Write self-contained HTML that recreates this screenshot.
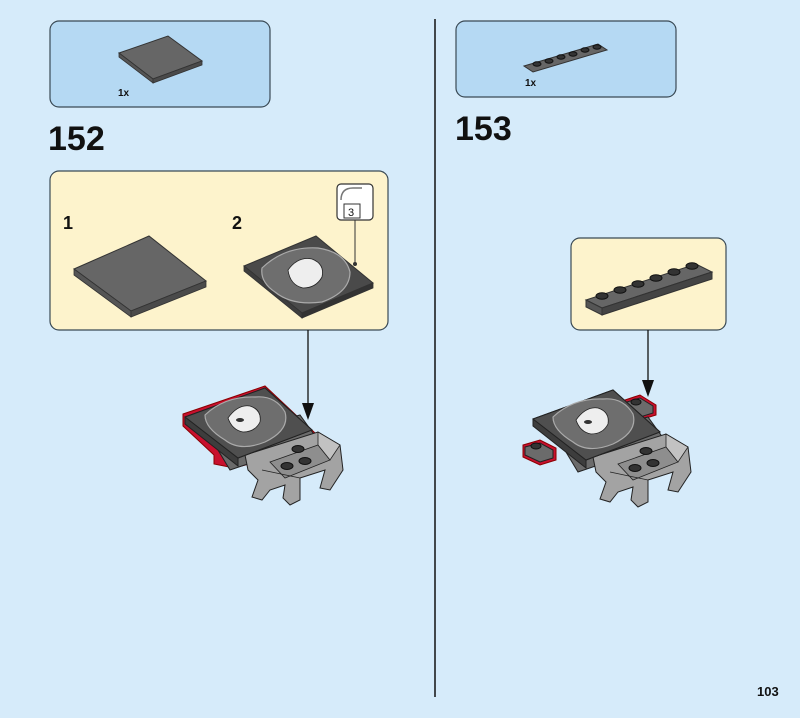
<!DOCTYPE html>
<html><head><meta charset="utf-8"><style>
html,body{margin:0;padding:0;background:#d6ebfa;}
svg{display:block;font-family:"Liberation Sans",sans-serif;}
</style></head><body>
<svg width="800" height="718" viewBox="0 0 800 718" xmlns="http://www.w3.org/2000/svg">
<defs>
<g id="ship">
  <polygon points="212,440 300,415 318,440 230,470" fill="#6b6b6b" stroke="#222" stroke-width="1"/>
  <polygon points="245,455 318,432 340,445 343,470 330,490 320,488 325,470 300,478 300,500 290,505 283,498 285,485 270,490 262,500 252,497 258,480 248,470" fill="#a3a3a3" stroke="#222" stroke-width="1"/>
  <polygon points="270,462 318,445 330,460 285,478" fill="#8e8e8e" stroke="#222" stroke-width="0.8"/>
  <polygon points="318,432 340,445 330,460 318,445" fill="#c2c2c2" stroke="#222" stroke-width="0.8"/>
  <line x1="262" y1="470" x2="300" y2="478" stroke="#222" stroke-width="0.8"/>
  <ellipse cx="287" cy="466" rx="6" ry="3.5" fill="#333" stroke="#111"/>
  <ellipse cx="305" cy="461" rx="6" ry="3.5" fill="#333" stroke="#111"/>
  <ellipse cx="298" cy="449" rx="6" ry="3.5" fill="#333" stroke="#111"/>
  <polygon points="185,417 265,388 312,430 238,458 238,466 185,424" fill="#3d3d3d" stroke="#222" stroke-width="1"/>
  <polygon points="185,417 265,388 312,430 238,458" fill="#4f4f4f" stroke="#222" stroke-width="1"/>
  <path d="M205,415 Q225,396 255,397 Q275,395 285,412 Q290,430 265,442 Q240,452 225,440 Q205,428 205,415Z" fill="#6e6e6e" stroke="#aaa" stroke-width="1.2"/>
  <path d="M228,418 Q238,404 250,406 Q262,410 260,422 Q255,432 243,432 Q232,430 228,418Z" fill="#eee" stroke="#222" stroke-width="0.8"/>
  <ellipse cx="240" cy="420" rx="4" ry="2" fill="#333"/>
</g>
</defs>

<rect x="50" y="21" width="220" height="86" rx="9" fill="#b5d9f3" stroke="#3a4a55" stroke-width="1.2"/>
<polygon points="119,53 168,36 202,61 153,79" fill="#666" stroke="#333" stroke-width="1"/>
<polygon points="119,53 153,79 153,83 119,57" fill="#555" stroke="#333" stroke-width="0.8"/>
<polygon points="153,79 202,61 202,65 153,83" fill="#4a4a4a" stroke="#333" stroke-width="0.8"/>
<text x="118" y="96" font-size="10" font-weight="bold" fill="#111">1x</text>
<text x="48" y="150" font-size="34" font-weight="bold" fill="#111">152</text>

<rect x="50" y="171" width="338" height="159" rx="9" fill="#fdf3cc" stroke="#3a4a55" stroke-width="1.2"/>
<text x="63" y="229" font-size="18" font-weight="bold" fill="#111">1</text>
<text x="232" y="229" font-size="18" font-weight="bold" fill="#111">2</text>
<polygon points="74,269 149,236 206,281 131,311" fill="#666" stroke="#333" stroke-width="1"/>
<polygon points="74,269 131,311 131,317 74,275" fill="#555" stroke="#333" stroke-width="0.8"/>
<polygon points="131,311 206,281 206,287 131,317" fill="#4a4a4a" stroke="#333" stroke-width="0.8"/>
<polygon points="244,266 316,236 373,283 302,313" fill="#4a4a4a" stroke="#333" stroke-width="1"/>
<polygon points="244,266 302,313 302,318 244,271" fill="#3d3d3d" stroke="#333" stroke-width="0.8"/>
<polygon points="302,313 373,283 373,288 302,318" fill="#333" stroke="#333" stroke-width="0.8"/>
<path d="M262,268 Q285,246 318,248 Q345,252 350,272 Q350,292 322,302 Q292,306 275,292 Q260,282 262,268Z" fill="#6e6e6e" stroke="#aaa" stroke-width="1.2"/>
<path d="M288,270 Q298,256 312,259 Q325,264 322,277 Q316,288 303,288 Q290,285 288,270Z" fill="#eee" stroke="#222" stroke-width="0.8"/>
<rect x="337" y="184" width="36" height="36" rx="4" fill="#fff" stroke="#333" stroke-width="1.2"/>
<path d="M341,200 Q341,188 353,188 L362,188" fill="none" stroke="#777" stroke-width="1.5"/>
<rect x="344" y="204" width="16" height="14" fill="#fff" stroke="#333" stroke-width="1"/>
<text x="348" y="216" font-size="11" fill="#111">3</text>
<line x1="355" y1="220" x2="355" y2="264" stroke="#333" stroke-width="1"/>
<circle cx="355" cy="264" r="2" fill="#333"/>

<line x1="308" y1="330" x2="308" y2="405" stroke="#111" stroke-width="1.3"/>
<polygon points="302,403 314,403 308,420" fill="#111"/>
<polygon points="183,414 265,386 315,433 315,446 298,451 234,468 214,464 214,455 183,426" fill="#c8102e" stroke="#8b0000" stroke-width="1"/>
<use href="#ship"/>

<line x1="435" y1="19" x2="435" y2="697" stroke="#111" stroke-width="1.5"/>

<rect x="456" y="21" width="220" height="76" rx="9" fill="#b5d9f3" stroke="#3a4a55" stroke-width="1.2"/>
<polygon points="524,66 598,44 607,50 533,72" fill="#666" stroke="#333" stroke-width="1"/>
<g fill="#333" stroke="#111"><ellipse cx="537" cy="64" rx="4" ry="2.2"/><ellipse cx="549" cy="61" rx="4" ry="2.2"/><ellipse cx="561" cy="57" rx="4" ry="2.2"/><ellipse cx="573" cy="54" rx="4" ry="2.2"/><ellipse cx="585" cy="50" rx="4" ry="2.2"/><ellipse cx="597" cy="47" rx="4" ry="2.2"/></g>
<text x="525" y="86" font-size="10" font-weight="bold" fill="#111">1x</text>
<text x="455" y="140" font-size="34" font-weight="bold" fill="#111">153</text>

<rect x="571" y="238" width="155" height="92" rx="9" fill="#fdf3cc" stroke="#3a4a55" stroke-width="1.2"/>
<polygon points="586,300 696,264 712,272 602,308" fill="#666" stroke="#333" stroke-width="1"/>
<polygon points="586,300 602,308 602,315 586,307" fill="#555" stroke="#333"/>
<polygon points="602,308 712,272 712,279 602,315" fill="#444" stroke="#333"/>
<g fill="#333" stroke="#111"><ellipse cx="602" cy="296" rx="6" ry="3.2"/><ellipse cx="620" cy="290" rx="6" ry="3.2"/><ellipse cx="638" cy="284" rx="6" ry="3.2"/><ellipse cx="656" cy="278" rx="6" ry="3.2"/><ellipse cx="674" cy="272" rx="6" ry="3.2"/><ellipse cx="692" cy="266" rx="6" ry="3.2"/></g>

<line x1="648" y1="330" x2="648" y2="382" stroke="#111" stroke-width="1.3"/>
<polygon points="642,380 654,380 648,397" fill="#111"/>
<polygon points="625,400 640,395 656,405 656,415 640,420 625,412" fill="#c8102e" stroke="#8b0000"/>
<polygon points="627,402 640,398 653,406 653,413 640,417 627,410" fill="#6b6b6b" stroke="#222"/>
<ellipse cx="636" cy="402" rx="5" ry="3" fill="#333" stroke="#111"/>
<polygon points="523,445 540,440 556,448 556,460 540,465 523,457" fill="#c8102e" stroke="#8b0000"/>
<polygon points="525,447 540,443 553,450 553,458 540,462 525,455" fill="#6b6b6b" stroke="#222"/>
<ellipse cx="536" cy="446" rx="5" ry="3" fill="#333" stroke="#111"/>
<use href="#ship" transform="translate(348,2)"/>

<text x="757" y="696" font-size="13" font-weight="bold" fill="#111">103</text>
</svg>
</body></html>
